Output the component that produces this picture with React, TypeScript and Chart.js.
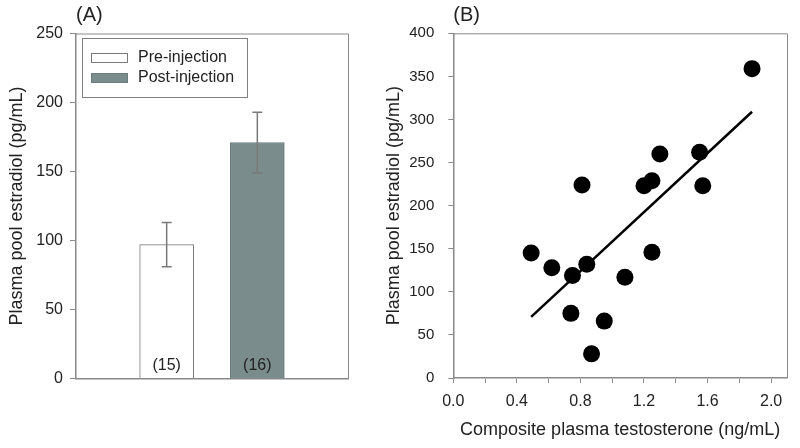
import React, { useEffect, useRef } from 'react';
import { Chart, registerables } from 'chart.js';

Chart.register(...registerables);

// ---------- Panel A data ----------
const barCategories = ['', 'Pre-injection', 'Post-injection', ''];
const seriesNames = ['Pre-injection', 'Post-injection'];
const barSlots = [1, 2];
const barMeans = [97, 171];
const barErrLow = [81, 149];
const barErrHigh = [113, 193];
const barCounts = ['(15)', '(16)'];
const barFills = ['#ffffff', '#7b8c8c'];
const barBorders = ['#7a7a7a', '#6c7d7d'];

// ---------- Panel B data ----------
const testosterone = [1.88, 1.30, 1.55, 1.57, 0.81, 1.20, 1.25, 0.49, 1.25, 0.62, 0.84, 0.75, 1.08, 0.74, 0.95, 0.87];
const estradiol = [359, 260, 262, 223, 224, 223, 229, 145, 146, 128, 132, 119, 117, 75, 66, 28];
const fitX = [0.49, 1.88];
const fitY = [71, 309];
const xTickValues = [0, 0.2, 0.4, 0.6, 0.8, 1.0, 1.2, 1.4, 1.6, 1.8, 2.0];
const xTickLabels = ['0.0', '', '0.4', '', '0.8', '', '1.2', '', '1.6', '', '2.0'];

const FONT = "'Liberation Sans', Arial, sans-serif";
const TEXT = '#222222';
const AXIS = '#8a8a8a';

const frameAndLabel = (label: string) => ({
  id: 'frame_' + label.replace(/\W/g, ''),
  afterDraw(chart: any) {
    const { ctx, chartArea } = chart;
    ctx.save();
    ctx.strokeStyle = AXIS;
    ctx.lineWidth = 1;
    ctx.beginPath();
    ctx.moveTo(chartArea.left, chartArea.top + 0.5);
    ctx.lineTo(chartArea.right + 0.5, chartArea.top + 0.5);
    ctx.lineTo(chartArea.right + 0.5, chartArea.bottom);
    ctx.stroke();
    ctx.fillStyle = TEXT;
    ctx.font = `20px ${FONT}`;
    ctx.textAlign = 'left';
    ctx.textBaseline = 'middle';
    ctx.fillText(label, chartArea.left, 15);
    ctx.restore();
  },
});

const barExtras = {
  id: 'barExtras',
  afterDatasetsDraw(chart: any) {
    const { ctx, chartArea, scales } = chart;
    const x = scales.x;
    const y = scales.y;
    ctx.save();
    // error bars
    ctx.strokeStyle = '#7a7a7a';
    ctx.lineWidth = 1.5;
    barSlots.forEach((slot, i) => {
      const cx = x.getPixelForValue(slot);
      const yl = y.getPixelForValue(barErrLow[i]);
      const yh = y.getPixelForValue(barErrHigh[i]);
      ctx.beginPath();
      ctx.moveTo(cx, yl);
      ctx.lineTo(cx, yh);
      ctx.moveTo(cx - 5, yl);
      ctx.lineTo(cx + 5, yl);
      ctx.moveTo(cx - 5, yh);
      ctx.lineTo(cx + 5, yh);
      ctx.stroke();
    });
    // counts
    ctx.fillStyle = TEXT;
    ctx.font = `16px ${FONT}`;
    ctx.textAlign = 'center';
    ctx.textBaseline = 'middle';
    barSlots.forEach((slot, i) => {
      const cx = x.getPixelForValue(slot);
      ctx.fillText(barCounts[i], cx, y.getPixelForValue(0) - 13);
    });
    // legend
    const lx = chartArea.left + 6;
    const ly = chartArea.top + 4.5;
    ctx.strokeStyle = '#808080';
    ctx.lineWidth = 1;
    ctx.strokeRect(lx + 0.5, ly + 0.5, 165, 59);
    ctx.font = `16px ${FONT}`;
    ctx.textAlign = 'left';
    seriesNames.forEach((name, i) => {
      const sy = ly + 15 + i * 20;
      ctx.fillStyle = barFills[i];
      ctx.fillRect(lx + 9, sy, 37, 10);
      ctx.strokeStyle = barBorders[i];
      ctx.strokeRect(lx + 9.5, sy + 0.5, 36, 9);
      ctx.fillStyle = TEXT;
      ctx.fillText(name, lx + 56, sy + 5);
    });
    ctx.restore();
  },
};

function PanelA() {
  const ref = useRef<HTMLCanvasElement>(null);
  useEffect(() => {
    const chart = new Chart(ref.current as HTMLCanvasElement, {
      type: 'bar',
      data: {
        labels: barCategories,
        datasets: seriesNames.map((name, i) => ({
          label: name,
          data: barCategories.map((_, k) => (k === barSlots[i] ? barMeans[i] : null)),
          backgroundColor: barFills[i],
          borderColor: barBorders[i],
          borderWidth: 1,
          barThickness: 54,
          grouped: false,
        })),
      } as any,
      options: {
        animation: false,
        responsive: false,
        layout: { padding: { left: 0, right: 22, top: 33.5, bottom: 0 } },
        plugins: { legend: { display: false }, tooltip: { enabled: false } },
        scales: {
          x: {
            type: 'category',
            offset: false,
            grid: { display: false },
            ticks: { display: false },
            border: { color: AXIS, width: 1.5 },
            afterFit: (s: any) => { s.height = 69.5; },
          },
          y: {
            min: 0,
            max: 250,
            ticks: { stepSize: 50, color: TEXT, font: { family: FONT, size: 16 }, padding: 7 },
            grid: { drawOnChartArea: false, tickLength: 6, color: AXIS },
            border: { color: AXIS, width: 1.5 },
            title: {
              display: true,
              text: 'Plasma pool estradiol (pg/mL)',
              color: TEXT,
              font: { family: FONT, size: 18 },
              padding: { top: 6, bottom: 0 },
            },
            afterFit: (s: any) => { s.width = 76; },
          },
        },
      } as any,
      plugins: [barExtras, frameAndLabel('(A)')],
    });
    return () => chart.destroy();
  }, []);
  return <canvas ref={ref} width={370} height={448} style={{ position: 'absolute', left: 0, top: 0 }} />;
}

function PanelB() {
  const ref = useRef<HTMLCanvasElement>(null);
  useEffect(() => {
    const chart = new Chart(ref.current as HTMLCanvasElement, {
      type: 'scatter',
      data: {
        datasets: [
          {
            label: 'Samples',
            data: testosterone.map((t, i) => ({ x: t, y: estradiol[i] })),
            backgroundColor: '#000000',
            borderColor: '#000000',
            pointRadius: 8.5,
            pointBorderWidth: 0,
          },
          {
            label: 'Fit',
            data: fitX.map((t, i) => ({ x: t, y: fitY[i] })),
            showLine: true,
            borderColor: '#000000',
            borderWidth: 2.5,
            pointRadius: 0,
          },
        ],
      } as any,
      options: {
        animation: false,
        responsive: false,
        layout: { padding: { left: 0, right: 13, top: 33.3, bottom: 0 } },
        plugins: { legend: { display: false }, tooltip: { enabled: false } },
        scales: {
          x: {
            type: 'linear',
            min: 0,
            max: 2.1,
            afterBuildTicks: (s: any) => { s.ticks = xTickValues.map((v) => ({ value: v })); },
            ticks: {
              color: TEXT,
              font: { family: FONT, size: 16 },
              padding: 9,
              autoSkip: false,
              maxRotation: 0,
              callback: (_v: any, idx: number) => xTickLabels[idx] ?? '',
            },
            grid: { drawOnChartArea: false, tickLength: 5, color: AXIS },
            border: { color: AXIS, width: 1.5 },
            title: {
              display: true,
              text: 'Composite plasma testosterone (ng/mL)',
              color: TEXT,
              font: { family: FONT, size: 18 },
              padding: { top: 0, bottom: 7 },
            },
            afterFit: (s: any) => { s.height = 70; },
          },
          y: {
            min: 0,
            max: 400,
            ticks: { stepSize: 50, color: TEXT, font: { family: FONT, size: 15 }, padding: 14 },
            grid: { drawOnChartArea: false, tickLength: 5, color: AXIS },
            border: { color: AXIS, width: 1.5 },
            title: {
              display: true,
              text: 'Plasma pool estradiol (pg/mL)',
              color: TEXT,
              font: { family: FONT, size: 18 },
              padding: { top: 13, bottom: 0 },
            },
            afterFit: (s: any) => { s.width = 83.3; },
          },
        },
      } as any,
      plugins: [frameAndLabel('(B)')],
    });
    return () => chart.destroy();
  }, []);
  return <canvas ref={ref} width={430} height={448} style={{ position: 'absolute', left: 370, top: 0 }} />;
}

export default function App() {
  return (
    <div style={{ position: 'absolute', left: 0, top: 0, width: 800, height: 448, background: '#ffffff' }}>
      <PanelA />
      <PanelB />
    </div>
  );
}
